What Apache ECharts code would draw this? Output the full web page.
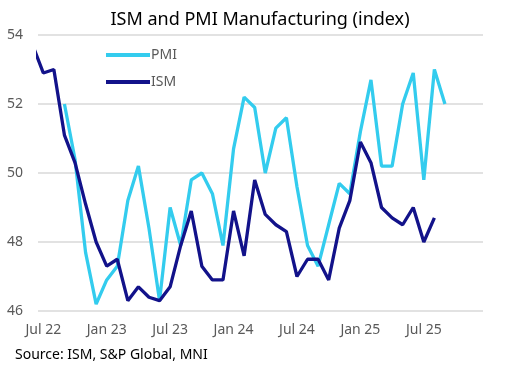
<!DOCTYPE html>
<html>
<head>
<meta charset="utf-8">
<script src="https://cdn.jsdelivr.net/npm/echarts@6/dist/echarts.min.js"></script>
<style>
html,body{margin:0;padding:0;background:#fff;}
#c{width:507px;height:366px;}
</style>
</head>
<body>
<div id="c"></div>
<script>
const months = ['Jun 22','Jul 22','Aug 22','Sep 22','Oct 22','Nov 22','Dec 22',
  'Jan 23','Feb 23','Mar 23','Apr 23','May 23','Jun 23','Jul 23','Aug 23','Sep 23','Oct 23','Nov 23','Dec 23',
  'Jan 24','Feb 24','Mar 24','Apr 24','May 24','Jun 24','Jul 24','Aug 24','Sep 24','Oct 24','Nov 24','Dec 24',
  'Jan 25','Feb 25','Mar 25','Apr 25','May 25','Jun 25','Jul 25','Aug 25','Sep 25'];
const ism = [53.7, 52.9, 53.0, 51.1, 50.3, 49.1, 48.0,
  47.3, 47.5, 46.3, 46.7, 46.4, 46.3, 46.7, 47.9, 48.9, 47.3, 46.9, 46.9,
  48.9, 47.6, 49.8, 48.8, 48.5, 48.3, 47.0, 47.5, 47.5, 46.9, 48.4, 49.2,
  50.9, 50.3, 49.0, 48.7, 48.5, 49.0, 48.0, 48.7];
const pmi = [null, null, null, 52.0, 50.4, 47.7, 46.2,
  46.9, 47.3, 49.2, 50.2, 48.4, 46.3, 49.0, 47.9, 49.8, 50.0, 49.4, 47.9,
  50.7, 52.2, 51.9, 50.0, 51.3, 51.6, 49.6, 47.9, 47.3, 48.5, 49.7, 49.4,
  51.2, 52.7, 50.2, 50.2, 52.0, 52.9, 49.8, 53.0, 52.0];
const tickLabels = ['Jul 22','Jan 23','Jul 23','Jan 24','Jul 24','Jan 25','Jul 25'];
const yTicks = [46, 48, 50, 52, 54];

const toPairs = arr => arr.map((v, i) => [i, v]).filter(p => p[1] !== null);
const tickPos = tickLabels.map(l => months.indexOf(l));

const chart = echarts.init(document.getElementById('c'), null, {renderer: 'canvas'});
const FONT = 'Noto Sans';
chart.setOption({
  animation: false,
  backgroundColor: '#ffffff',
  textStyle: {fontFamily: FONT},
  grid: {left: 38, right: 24, top: 35, bottom: 55, containLabel: false},
  graphic: [
    {type: 'text', x: 260, y: 20,
      style: {text: 'ISM and PMI Manufacturing (index)', align: 'center', verticalAlign: 'middle',
        font: '18px "Noto Sans"', fill: '#000000'}},
    {type: 'text', x: 15, y: 355,
      style: {text: 'Source: ISM, S&P Global, MNI', verticalAlign: 'middle',
        font: '14px "Noto Sans"', fill: '#000000'}}
  ],
  legend: {
    data: ['PMI', 'ISM'],
    orient: 'vertical',
    left: 101, top: 42,
    icon: 'rect',
    itemWidth: 44, itemHeight: 4, itemGap: 11,
    textStyle: {fontFamily: FONT, fontSize: 14, lineHeight: 16, color: '#595959', padding: [0, 0, 0, -4]}
  },
  xAxis: {
    type: 'value',
    min: 0.5, max: 42.6,
    axisLine: {show: false},
    axisTick: {show: false},
    splitLine: {show: false},
    axisLabel: {
      customValues: tickPos,
      formatter: v => months[Math.round(v)],
      fontFamily: FONT, fontSize: 14, color: '#595959', margin: 12
    }
  },
  yAxis: {
    type: 'value',
    min: yTicks[0], max: yTicks[yTicks.length - 1], interval: 2,
    axisLine: {show: false},
    axisTick: {show: false},
    splitLine: {lineStyle: {color: '#d9d9d9', width: 1.5}},
    axisLabel: {fontFamily: FONT, fontSize: 14, color: '#595959', margin: 15}
  },
  series: [
    {name: 'PMI', type: 'line', data: toPairs(pmi), symbol: 'none', clip: true,
      lineStyle: {color: '#33CCEE', width: 3.3}, itemStyle: {color: '#33CCEE'}},
    {name: 'ISM', type: 'line', data: toPairs(ism), symbol: 'none', clip: true,
      lineStyle: {color: '#12128A', width: 3.3}, itemStyle: {color: '#12128A'}}
  ]
});
</script>
</body>
</html>
